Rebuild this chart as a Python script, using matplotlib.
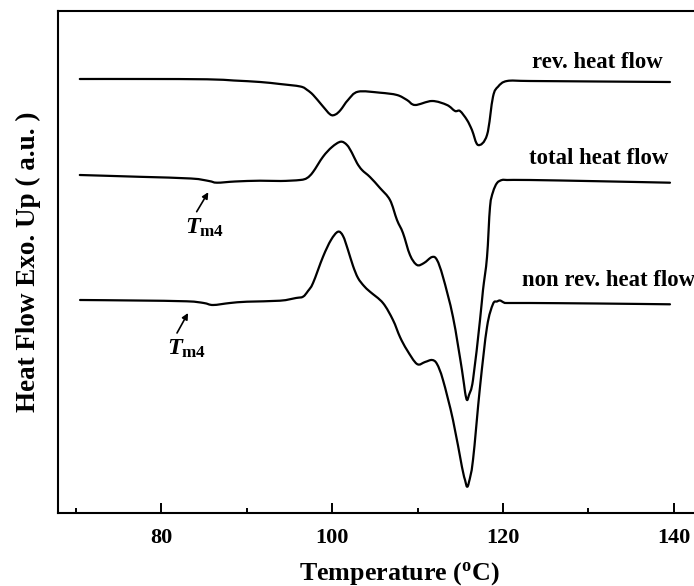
import matplotlib
matplotlib.use("Agg")
import matplotlib.pyplot as plt
import numpy as np
from matplotlib.path import Path
from matplotlib.patches import PathPatch
from matplotlib.ticker import MultipleLocator

plt.rcParams['font.family'] = ['Liberation Serif', 'DejaVu Serif']
plt.rcParams['font.weight'] = 'bold'
plt.rcParams['mathtext.fontset'] = 'custom'
plt.rcParams['mathtext.rm'] = 'Liberation Serif:bold'
plt.rcParams['mathtext.it'] = 'Liberation Serif:italic:bold'
plt.rcParams['mathtext.bf'] = 'Liberation Serif:bold'

# ---- data (temperature in degC, heat flow in arbitrary units) ----
rev_T = [70.5, 78.0, 85.4, 88.5, 91.6, 93.9, 96.3, 97.1, 97.8, 98.8, 99.8, 100.4, 101.0,
         101.87, 103.04, 105.61, 107.6, 108.77, 109.71, 111.7, 113.45, 114.39, 114.97,
         115.79, 116.37, 117.08, 118.13, 118.83, 119.42, 120.47, 123.16, 131.0, 139.53]
rev_hf = [43.4, 43.4, 43.37, 43.25, 43.1, 42.9, 42.65, 42.3, 41.8, 40.8, 39.85, 39.85, 40.3,
          41.3, 42.13, 42.03, 41.8, 41.3, 40.8, 41.2, 40.8, 40.2, 40.2,
          39.3, 38.3, 36.8, 37.8, 41.63, 42.63, 43.2, 43.2, 43.15, 43.1]

tot_T = [70.5, 77.5, 83.5, 85.6, 86.55, 88.65, 91.58, 94.0, 96.26, 97.08, 97.78, 98.95,
         100.0, 101.02, 101.75, 102.34, 102.92, 103.51, 104.44, 105.61, 106.78, 107.6,
         108.3, 109.12, 109.94, 110.76, 111.7, 112.28, 112.98, 114.15, 115.2,
         115.56, 115.79, 116.02, 116.49, 117.31, 117.66, 118.13, 118.48, 118.83,
         119.3, 119.88, 120.47, 123.16, 131.0, 139.53]
tot_hf = [33.8, 33.62, 33.45, 33.2, 33.03, 33.15, 33.23, 33.2, 33.3, 33.5, 34.1, 35.63,
          36.6, 37.13, 36.8, 36.0, 35.0, 34.3, 33.6, 32.5, 31.3, 29.3,
          28.0, 25.8, 24.8, 25.0, 25.6, 25.3, 23.6, 19.6, 14.3,
          12.1, 11.3, 11.8, 13.3, 19.3, 22.3, 25.6, 30.6, 32.1,
          33.0, 33.3, 33.3, 33.3, 33.18, 33.03]

non_T = [70.53, 77.0, 83.0, 85.0, 86.08, 88.07, 90.06, 93.92, 95.79, 96.61, 97.19, 97.78,
         98.95, 99.88, 100.7, 101.29, 101.87, 102.46, 103.04, 103.74, 104.44,
         105.96, 107.13, 107.95, 108.77, 109.94, 110.88, 111.7, 112.28, 112.98,
         114.15, 115.2, 115.56, 115.79, 116.02, 116.49, 117.31, 118.13, 118.83,
         119.3, 119.65, 120.1, 120.47, 123.16, 131.0, 139.53]
non_hf = [21.3, 21.25, 21.17, 21.0, 20.8, 21.0, 21.13, 21.23, 21.5, 21.63, 22.2, 23.0,
          25.63, 27.3, 28.13, 27.7, 26.3, 24.7, 23.5, 22.7, 22.13,
          21.0, 19.3, 17.6, 16.3, 14.9, 15.1, 15.3, 14.9, 13.3,
          9.3, 4.6, 3.3, 2.63, 3.1, 5.3, 12.6, 18.6, 20.9,
          21.15, 21.25, 21.05, 21.0, 21.0, 20.95, 20.87]

curve_labels = ['rev. heat flow', 'total heat flow', 'non rev. heat flow']
x_ticks = [80, 100, 120, 140]


def smooth_path(x, y):
    """Bezier path passing through every data point (Catmull-Rom style)."""
    p = np.column_stack([x, y]).astype(float)
    verts = [p[0]]
    codes = [Path.MOVETO]
    n = len(p)
    for i in range(n - 1):
        p0 = p[i - 1] if i > 0 else p[i]
        p1, p2 = p[i], p[i + 1]
        p3 = p[i + 2] if i + 2 < n else p[i + 1]
        c1 = p1 + (p2 - p0) / 6.0
        c2 = p2 - (p3 - p1) / 6.0
        verts += [c1, c2, p2]
        codes += [Path.CURVE4] * 3
    return Path(verts, codes)


W, H = 694, 586
fig = plt.figure(figsize=(W / 100, H / 100), dpi=100)
ax = fig.add_axes([58 / W, (H - 513) / H, (W - 58) / W, 502 / H])

for T, hf in [(rev_T, rev_hf), (tot_T, tot_hf), (non_T, non_hf)]:
    ax.add_patch(PathPatch(smooth_path(T, hf), facecolor='none', edgecolor='black',
                           lw=1.6, joinstyle='round', capstyle='round'))

ax.set_xlim(67.95, 142.34)
ax.set_ylim(0, 50.2)
ax.set_yticks([])
ax.set_xticks(x_ticks)
ax.xaxis.set_minor_locator(MultipleLocator(10))
ax.tick_params(axis='x', which='major', direction='in', length=7, width=1.4,
               labelsize=16, pad=11)
ax.tick_params(axis='x', which='minor', direction='in', length=3.6, width=1.4)
ax.spines['right'].set_visible(False)
for s in ['left', 'top', 'bottom']:
    ax.spines[s].set_linewidth(1.5)
for lab in ax.get_xticklabels():
    lab.set_fontweight('bold')

fs = 16.4
ax.text(138.7, 45.1, curve_labels[0], ha='right', va='center', fontsize=fs, fontweight='bold')
ax.text(139.3, 35.5, curve_labels[1], ha='right', va='center', fontsize=fs, fontweight='bold')
ax.text(122.2, 23.3, curve_labels[2], ha='left', va='center', fontsize=fs, fontweight='bold',
        clip_on=False)

# Tm4 annotations
for tip, tail, tpos in [((85.53, 32.08), (84.17, 30.13), (82.75, 27.9)),
                        ((83.16, 20.0), (81.87, 18.0), (80.7, 15.8))]:
    ax.annotate('', xy=tip, xytext=tail,
                arrowprops=dict(arrowstyle='-|>', color='black', lw=1.2,
                                mutation_scale=9, shrinkA=0, shrinkB=0))
    ax.text(tpos[0], tpos[1], r'$\mathit{T}_{\mathrm{m4}}$', ha='left', va='baseline',
            fontsize=17.5)

ax.text((399 - 58) / 636, -0.1335, r'Temperature ($\mathrm{^{o}}$C)', transform=ax.transAxes,
        ha='center', va='baseline', fontsize=18.7, fontweight='bold')
ax.text(-0.0472, 0.5, 'Heat Flow Exo. Up ( a.u. )', transform=ax.transAxes,
        rotation=90, ha='center', va='center', fontsize=19.5, fontweight='bold')

fig.savefig('out.png', dpi=100)
